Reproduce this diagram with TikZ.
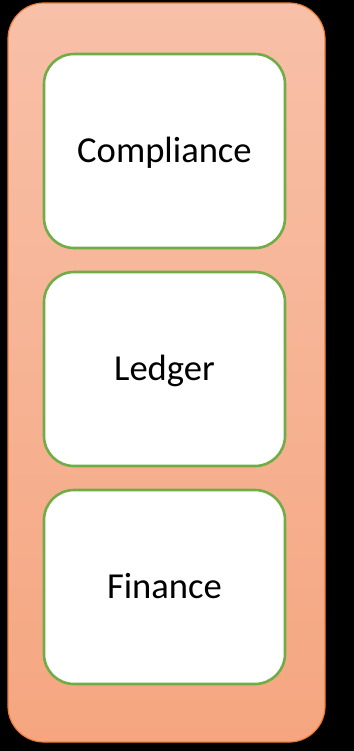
\documentclass[tikz,border=0pt]{standalone}
\usepackage{fontspec}
\setmainfont{Carlito}
\definecolor{layertop}{RGB}{248,192,168}
\definecolor{layerbottom}{RGB}{245,166,128}
\definecolor{layerorange}{RGB}{237,125,49}
\definecolor{modulegreen}{RGB}{112,173,71}

\begin{document}
\begin{tikzpicture}[x=0.5pt,y=-0.5pt]

%
% Styles
%
\tikzstyle{layer}  = [rectangle,rounded corners=18pt,draw=layerorange,line width=0.6pt,
                      top color=layertop,bottom color=layerbottom,
                      minimum width=158.5pt,minimum height=369.5pt]
\tikzstyle{module} = [rectangle,rounded corners=15pt,draw=modulegreen,line width=1.3pt,fill=white,
                      minimum width=120.5pt,minimum height=97pt,
                      text height=11.8pt,text depth=0pt,
                      font=\fontsize{18.3}{22}\selectfont]

\fill[black] (0,0) rectangle (354,751);
\useasboundingbox (0,0) rectangle (354,751);

\node[layer] (stack) at (166.5,372.5) {};

\node[module] (compliance) at (164.5,151) {Compliance};
\node[module] (ledger)     at (164.5,369) {Ledger};
\node[module] (finance)    at (164.5,587) {Finance};

\end{tikzpicture}
\end{document}
